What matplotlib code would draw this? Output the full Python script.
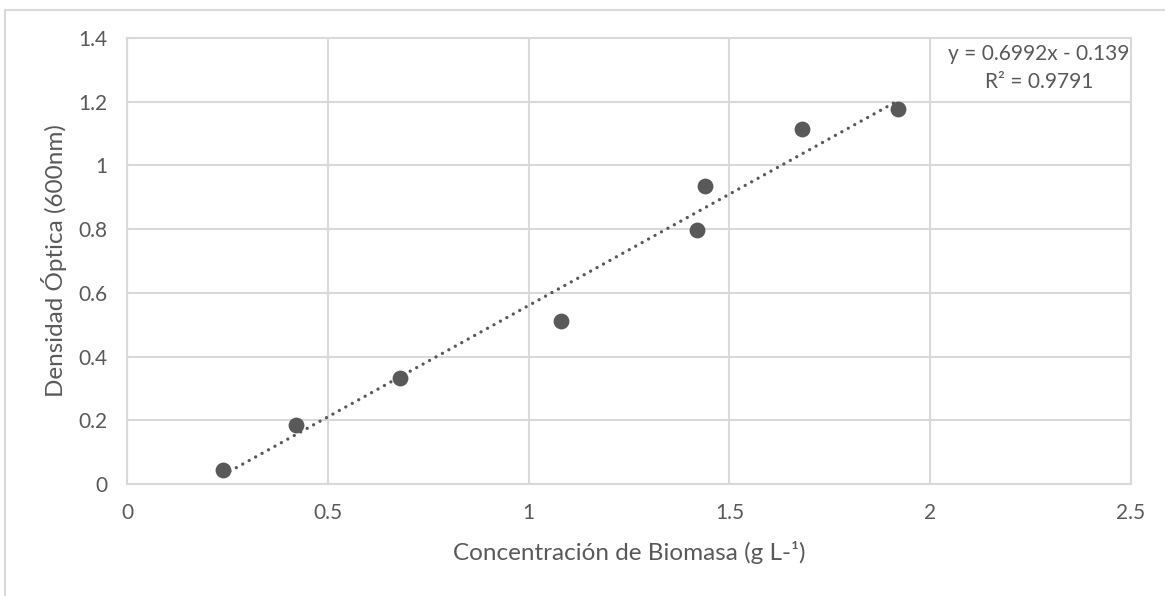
import numpy as np
import matplotlib.pyplot as plt
from matplotlib.lines import Line2D

# biomasa (g/L) vs densidad optica a 600 nm
biomasa = [0.24, 0.42, 0.68, 1.08, 1.42, 1.44, 1.68, 1.92]
densidad = [0.045, 0.186, 0.333, 0.512, 0.797, 0.936, 1.115, 1.178]

# linea de tendencia lineal
pendiente = 0.6992
intercepto = -0.139
r2 = 0.9791

x_ticks = [0, 0.5, 1, 1.5, 2, 2.5]
x_labels = ['0', '0.5', '1', '1.5', '2', '2.5']
y_ticks = [0, 0.2, 0.4, 0.6, 0.8, 1.0, 1.2, 1.4]
y_labels = ['0', '0.2', '0.4', '0.6', '0.8', '1', '1.2', '1.4']

gris = '#595959'
rejilla = '#d9d9d9'

plt.rcParams['font.family'] = ['Lato', 'DejaVu Sans']

W, H = 1165, 596
fig = plt.figure(figsize=(W / 100, H / 100), dpi=100)
ax = fig.add_axes([127 / W, 1 - 484 / H, (1131 - 127) / W, (484 - 38) / H])

ax.scatter(biomasa, densidad, s=130, color=gris, zorder=3, linewidths=0)

xt = np.array([min(biomasa), max(biomasa)])
ax.plot(xt, pendiente * xt + intercepto, color=gris, lw=2.4,
        linestyle=(0, (0.01, 2.2)), dash_capstyle='round', zorder=2)

ax.set_xlim(0, 2.5)
ax.set_ylim(0, 1.4)
ax.set_xticks(x_ticks, x_labels)
ax.set_yticks(y_ticks, y_labels)
ax.grid(True, color=rejilla, lw=1.5)
ax.set_axisbelow(True)
for s in ax.spines.values():
    s.set_color(rejilla)
    s.set_linewidth(1.5)
ax.tick_params(length=0, labelsize=15, colors=gris, pad=14)
ax.tick_params(axis='y', pad=14)

ax.set_xlabel('Concentración de Biomasa (g L-¹)', fontsize=17.5, color=gris, labelpad=13)
ax.set_ylabel('Densidad Óptica (600nm)', fontsize=17.5, color=gris, labelpad=8)

fig.text(1039 / W, 1 - 54 / H, f'y = {pendiente}x - {abs(intercepto)}',
         ha='center', va='center', fontsize=15, color=gris)
fig.text(1039 / W, 1 - 82 / H, f'R² = {r2}',
         ha='center', va='center', fontsize=15, color=gris)

# borde del grafico
fig.add_artist(Line2D([5 / W, 5 / W], [0, 1 - 10 / H], color=rejilla, lw=1.5))
fig.add_artist(Line2D([5 / W, 1], [1 - 10 / H, 1 - 10 / H], color=rejilla, lw=1.5))

fig.savefig('out.png', dpi=100, facecolor='white')
